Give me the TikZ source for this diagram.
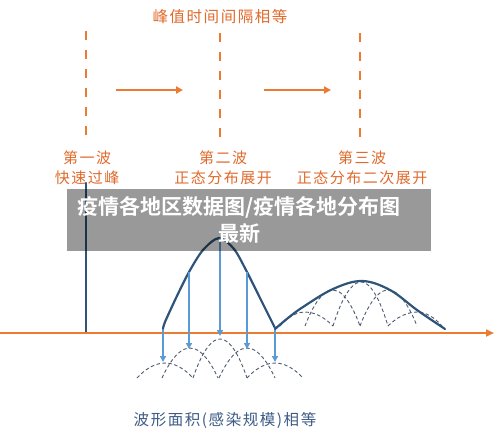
\documentclass[tikz,border=0pt]{standalone}
\usepackage{fontspec}
\usetikzlibrary{arrows.meta}
\newfontfamily\cjk{Noto Sans CJK SC}
\newfontfamily\cjkls{Noto Sans CJK SC}[LetterSpace=10]
\newfontfamily\cjkbold{Noto Sans CJK SC Bold}
\definecolor{orangeL}{HTML}{EC7B32}
\definecolor{orangeT}{HTML}{E06A2C}
\definecolor{waveC}{HTML}{2F5479}
\definecolor{arrowC}{HTML}{5B9BD5}
\definecolor{arcC}{HTML}{4D5B70}
\definecolor{bottomT}{HTML}{3E5C86}
\begin{document}
\begin{tikzpicture}[x=1pt,y=-1pt,
  odash/.style={draw=orangeL, line width=2.2pt, dash pattern=on 9pt off 10pt},
  oarrow/.style={draw=orangeL, line width=2.2pt, -{Triangle[length=7pt,width=7pt]}},
  axisline/.style={draw=orangeL, line width=2.6pt, -{Triangle[length=8pt,width=7pt]}},
  wave/.style={draw=waveC, line width=2.2pt, line join=round, line cap=round},
  barrow/.style={draw=arrowC, line width=1.8pt, -{Triangle[length=6pt,width=6pt]}},
  arcline/.style={draw=arcC, line width=0.9pt, dash pattern=on 3.5pt off 2.5pt},
  otext/.style={text=orangeT, font=\cjkls\fontsize{15}{17}\selectfont, inner sep=0pt},
  btext/.style={text=white, font=\cjkbold\fontsize{21}{24}\selectfont, inner sep=0pt},
  bottomtext/.style={text=bottomT, font=\cjkls\fontsize{15.5}{18}\selectfont, inner sep=0pt}]
\useasboundingbox (0,0) rectangle (500,441);
\fill[white] (0,0) rectangle (500,441);

% title
\node[otext, font=\cjkls\fontsize{15.5}{18}\selectfont] (title) at (220,17) {峰值时间间隔相等};

% dashed peak markers
\coordinate (d1t) at (86,31);  \coordinate (d1b) at (86,137);
\coordinate (d2t) at (220,33); \coordinate (d2b) at (220,140);
\coordinate (d3t) at (360,33); \coordinate (d3b) at (360,140);
\draw[odash] (d1t) -- (d1b);
\draw[odash] (d2t) -- (d2b);
\draw[odash] (d3t) -- (d3b);

% interval arrows
\coordinate (i1s) at (116,90); \coordinate (i1e) at (183,90);
\coordinate (i2s) at (264,90); \coordinate (i2e) at (331,90);
\draw[oarrow] (i1s) -- (i1e);
\draw[oarrow] (i2s) -- (i2e);

% labels
\node[otext] (l1a) at (87,158) {第一波};
\node[otext] (l1b) at (87,178) {快速过峰};
\node[otext] (l2a) at (223,158) {第二波};
\node[otext] (l2b) at (223,178) {正态分布展开};
\node[otext] (l3a) at (362,158) {第三波};
\node[otext] (l3b) at (362,178) {正态分布二次展开};

% axis
\coordinate (ax0) at (0,333); \coordinate (ax1) at (494,333);

% first wave spike
\coordinate (w1t) at (86,183); \coordinate (w1b) at (86,333);
\draw[wave] (w1t) -- (w1b);

% dashed sub-waves below axis
\draw[arcline] (137,378) parabola bend (165,363) (193,378);
\draw[arcline] (162,378) parabola bend (190,348) (218,378);
\draw[arcline] (193,378) parabola bend (220,339) (247,378);
\draw[arcline] (219,378) parabola bend (247,348) (275,378);
\draw[arcline] (247,378) parabola bend (275,363) (303,378);

% dashed sub-waves of third wave
\draw[arcline] (280,326) parabola bend (305,312) (333,326);
\draw[arcline] (305,326) parabola bend (333,290) (360,326);
\draw[arcline] (333,326) parabola bend (361,282) (388,326);
\draw[arcline] (360,326) parabola bend (388,290) (417,326);
\draw[arcline] (388,326) parabola bend (417,312) (442,326);

\draw[axisline] (ax0) -- (ax1);

% second wave
\draw[wave] plot[smooth, tension=0.5] coordinates {(163,329) (165,322) (176,298) (189,272) (203,250) (219,238) (234,249) (247,272) (261,300) (275,328)};
% third wave
\draw[wave] plot[smooth, tension=0.6] coordinates {(275,329) (288,318) (303,307) (333,289) (362,281) (390,290) (417,310) (445,329)};

% projection arrows
\coordinate (p1s) at (163,330); \coordinate (p1e) at (163,362);
\coordinate (p2s) at (189,272); \coordinate (p2e) at (189,349);
\coordinate (p3s) at (220,238); \coordinate (p3e) at (220,336);
\coordinate (p4s) at (247,272); \coordinate (p4e) at (247,349);
\coordinate (p5s) at (275,330); \coordinate (p5e) at (275,362);
\draw[barrow] (p1s) -- (p1e);
\draw[barrow] (p2s) -- (p2e);
\draw[barrow] (p3s) -- (p3e);
\draw[barrow] (p4s) -- (p4e);
\draw[barrow] (p5s) -- (p5e);

% bottom caption
\node[bottomtext] (cap) at (225,420) {波形面积(感染规模)相等};

% banner overlay
\fill[black, fill opacity=0.4] (67,189) rectangle (431,251);
\node[btext] (ban1) at (239,207) {疫情各地区数据图/疫情各地分布图};
\node[btext] (ban2) at (239,233) {最新};
\end{tikzpicture}
\end{document}
